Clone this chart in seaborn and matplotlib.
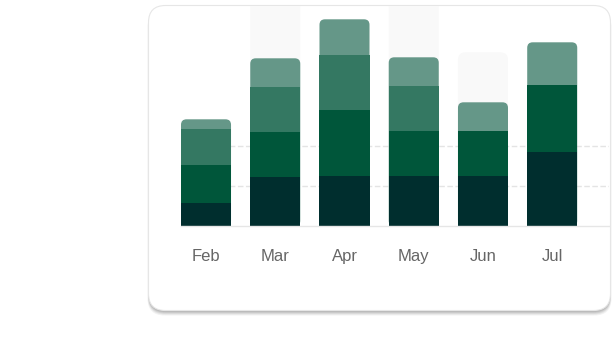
import matplotlib
matplotlib.use("Agg")
import matplotlib.pyplot as plt
import seaborn as sns
import numpy as np
from matplotlib.patches import FancyBboxPatch

# ---- data (arbitrary units) ----
months = ["Feb", "Mar", "Apr", "May", "Jun", "Jul"]
layer1 = [23, 49, 50, 50, 50, 74]   # darkest
layer2 = [38, 45, 66, 45, 45, 67]
layer3 = [36, 45, 55, 45, 0, 0]
layer4 = [10, 29, 36, 29, 29, 43]   # lightest (top)
backdrop = [0, 240, 0, 240, 174, 0]
grid_values = [40, 80]

colors = ["#002e2e", "#00563a", "#347862", "#659788"]
bg_color = "#f9f9f9"

sns.set_theme(style="white")
plt.rcParams["font.family"] = ["Liberation Sans", "DejaVu Sans"]

W, H = 615, 345
fig = plt.figure(figsize=(W / 100, H / 100), dpi=100)
fig.patch.set_facecolor("white")

# ---- card with shadow (pixel coordinate axes) ----
bg = fig.add_axes([0, 0, 1, 1], zorder=0)
bg.set_xlim(0, W)
bg.set_ylim(H, 0)
bg.axis("off")
cx, cy, cw, ch, cr = 148.5, 5.5, 462.0, 305.0, 17
for dy, grow, al in [(5, 1.0, 0.05), (4, 0.5, 0.06), (3, 0.3, 0.07), (2, 0.0, 0.08), (1, 0.0, 0.08)]:
    bg.add_patch(FancyBboxPatch((cx - grow, cy + dy), cw + 2 * grow, ch, boxstyle=f"round,pad=0,rounding_size={cr}",
                                fc="#000000", ec="none", alpha=al))
bg.add_patch(FancyBboxPatch((cx, cy), cw, ch, boxstyle=f"round,pad=0,rounding_size={cr}",
                            fc="white", ec="#e6e6e6", lw=0.8))

# ---- chart axes ----
ax_left, ax_right, ax_bottom, ax_top = 181, 609, 226.3, 6
ax = fig.add_axes([ax_left / W, (H - ax_bottom) / H, (ax_right - ax_left) / W, (ax_bottom - ax_top) / H], zorder=1)
ax.set_facecolor("none")

bar_w = 0.7225
xlim = (-bar_w / 2, 5.82)
ylim = (0, ax_bottom - ax_top)

cum1 = np.array(layer1)
cum2 = cum1 + np.array(layer2)
cum3 = cum2 + np.array(layer3)
cum4 = cum3 + np.array(layer4)

layers = [(backdrop, bg_color, 7.5), (cum4, colors[3], 5.5), (cum3, colors[2], 0),
          (cum2, colors[1], 0), (cum1, colors[0], 0)]

px_per_x = (ax_right - ax_left) / (xlim[1] - xlim[0])
px_per_y = (ax_bottom - ax_top) / (ylim[1] - ylim[0])

for z, (vals, col, r_px) in enumerate(layers):
    n0 = len(ax.patches)
    sns.barplot(x=months, y=list(vals), color=col, saturation=1, width=bar_w, errorbar=None,
                linewidth=0, ax=ax, order=months)
    new = ax.patches[n0:]
    for p in list(new):
        p.set_zorder(2 + z)
        if r_px > 0:
            r_x = r_px / px_per_x
            aspect = (r_px / px_per_y) / r_x
            x, y, w, h = p.get_x(), p.get_y(), p.get_width(), p.get_height()
            p.remove()
            if h <= 0:
                continue
            ax.add_patch(FancyBboxPatch((x, y), w, h, boxstyle=f"round,pad=0,rounding_size={r_x}",
                                        mutation_aspect=aspect, fc=col, ec="none", zorder=2 + z))

ax.set_xlim(*xlim)
ax.set_ylim(*ylim)
ax.set_yticks(grid_values)
ax.yaxis.grid(True, color="#e4e4e4", linewidth=1.0, linestyle=(0, (4.0, 1.8)))
ax.xaxis.grid(False)
ax.set_axisbelow(True)
for s in ["top", "left", "right"]:
    ax.spines[s].set_visible(False)
ax.spines["bottom"].set_color("#e6e6e6")
ax.spines["bottom"].set_linewidth(1.0)
ax.spines["bottom"].set_zorder(10)
ax.tick_params(axis="y", left=False, labelleft=False)
ax.tick_params(axis="x", length=0, pad=16.5, labelsize=12, labelcolor="#666666")
ax.set_xlabel("")
ax.set_ylabel("")

fig.savefig("out.png", dpi=100, facecolor="white")
